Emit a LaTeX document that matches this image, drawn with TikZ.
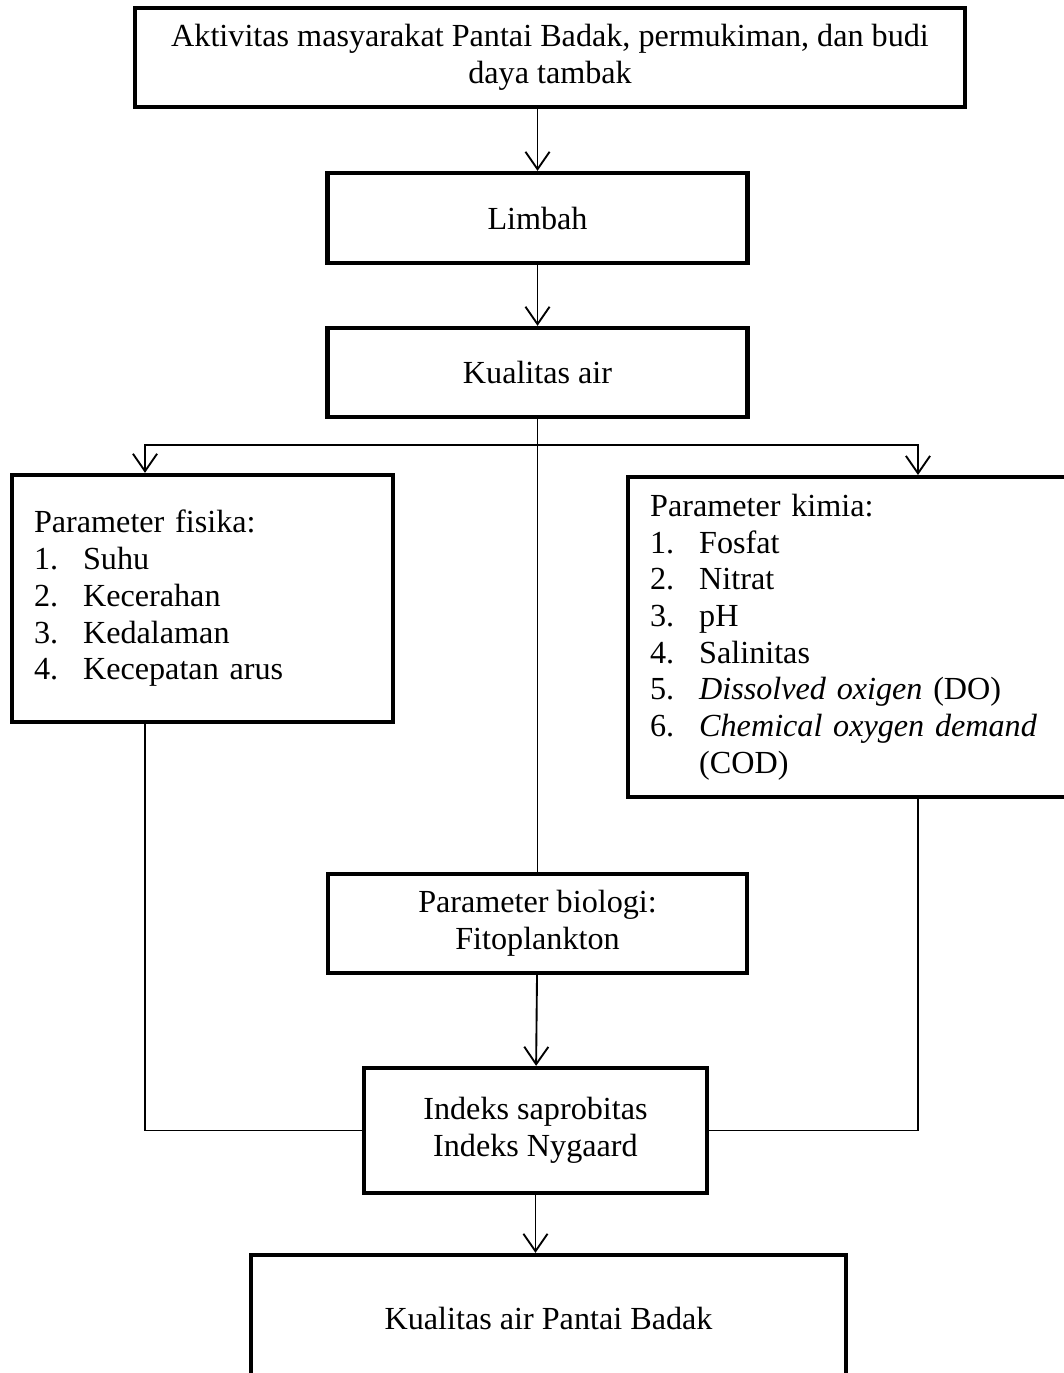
\documentclass[tikz,border=0pt]{standalone}
\usepackage{fontspec}
\setmainfont{Liberation Serif}
\usetikzlibrary{arrows.meta, positioning, calc}
\tikzset{
        block/.style={rectangle, draw, line width=1.6pt, align=center, inner sep=0pt, font=\fontsize{12pt}{13.7pt}\selectfont},
        listblock/.style={block, align=left, inner xsep=8.2pt},
        arrow/.style={-{Straight Barb[length=6.5pt,width=9pt]}, line width=0.7pt},
        link/.style={line width=0.7pt},
    }
\newcommand{\butir}[1]{\makebox[18.3pt][l]{#1.}}

\begin{document}
\begin{tikzpicture}
        \useasboundingbox (0,0) rectangle (13.936,-18.0);

        % TOP CHAIN
        \node[block, minimum width=10.881cm, minimum height=1.298cm] (aktivitas) at (7.211,-0.754) {
            Aktivitas masyarakat Pantai Badak, permukiman, dan budi\\daya tambak
        };
        \node[block, minimum width=5.506cm, minimum height=1.180cm] (limbah) at (7.047,-2.858) {Limbah};
        \node[block, minimum width=5.506cm, minimum height=1.167cm] (kualitas) at (7.047,-4.883) {Kualitas air};

        % PARAMETER FISIKA
        \node[listblock, text width=125.7pt, minimum height=3.238cm] (fisika) at (2.655,-7.846) {
            Parameter fisika:\\
            \butir{1}Suhu\\
            \butir{2}Kecerahan\\
            \butir{3}Kedalaman\\
            \butir{4}Kecepatan arus
        };

        % PARAMETER KIMIA
        \node[listblock, anchor=north west, text width=158.9pt, minimum height=4.195cm] (kimia) at (8.207,-6.227) {
            Parameter kimia:\\
            \butir{1}Fosfat\\
            \butir{2}Nitrat\\
            \butir{3}pH\\
            \butir{4}Salinitas\\
            \butir{5}\textit{Dissolved oxigen} (DO)\\
            \butir{6}\textit{Chemical oxygen demand}\\
            \hspace*{18.3pt}(COD)
        };

        % PARAMETER BIOLOGI
        \node[block, minimum width=5.493cm, minimum height=1.298cm] (biologi) at (7.047,-12.107) {
            Parameter biologi:\\Fitoplankton
        };

        % INDEKS
        \node[block, minimum width=4.497cm, minimum height=1.639cm] (indeks) at (7.020,-14.821) {
            Indeks saprobitas\\Indeks Nygaard
        };

        % HASIL
        \node[block, minimum width=7.800cm, minimum height=1.652cm] (hasil) at (7.191,-17.279) {Kualitas air Pantai Badak};

        % Arrows
        \coordinate (busL) at (1.901,-5.834);
        \coordinate (busR) at (12.035,-5.834);
        \draw[arrow] (aktivitas.south -| limbah) -- (limbah.north);
        \draw[arrow] (limbah) -- (kualitas);
        \draw[link] (kualitas) -- (biologi);
        \draw[arrow] (kualitas.south |- busL) -| (busL |- fisika.north);
        \draw[arrow] (kualitas.south |- busR) -| (busR |- kimia.north);
        \draw[link] (busL |- fisika.south) |- (indeks.west);
        \draw[link] (busR |- kimia.south) |- (indeks.east);
        \draw[arrow] (biologi) -- (indeks);
        \draw[arrow] (indeks.south) -- (indeks.south |- hasil.north);

    \end{tikzpicture}
\end{document}
